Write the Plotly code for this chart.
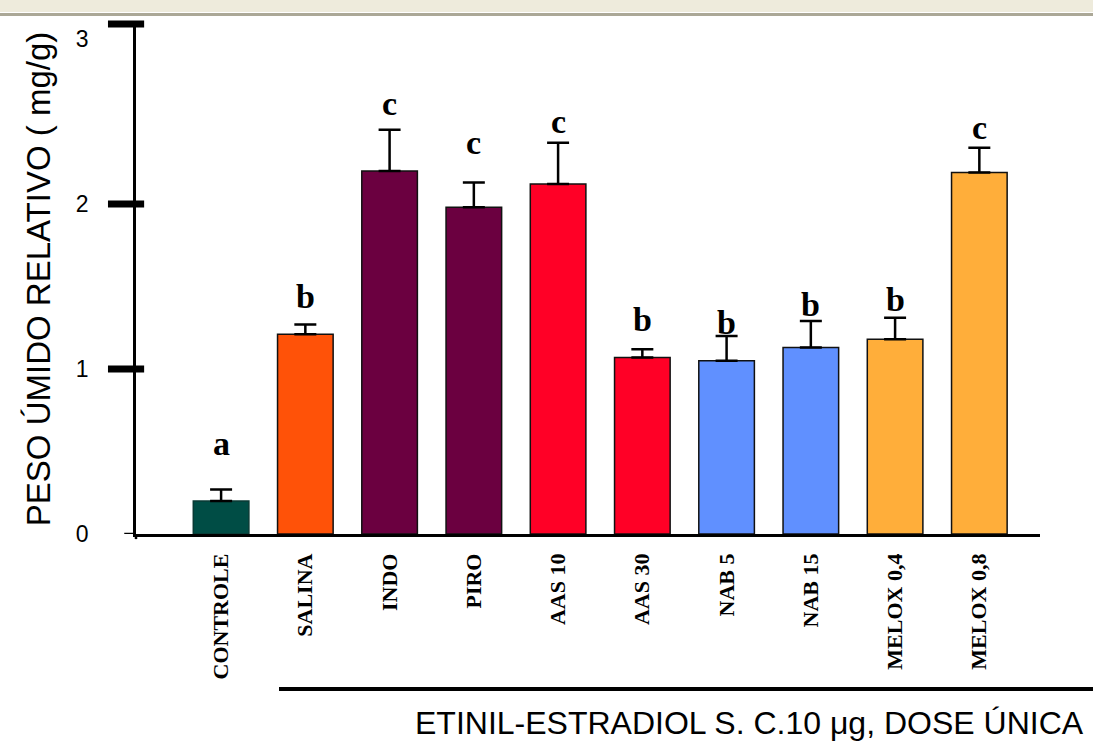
import plotly.graph_objects as go

categories = ["CONTROLE", "SALINA", "INDO", "PIRO", "AAS 10", "AAS 30",
              "NAB 5", "NAB 15", "MELOX 0,4", "MELOX 0,8"]
values = [0.20, 1.21, 2.20, 1.98, 2.12, 1.07, 1.05, 1.13, 1.18, 2.19]
errors = [0.07, 0.06, 0.25, 0.15, 0.25, 0.05, 0.15, 0.16, 0.13, 0.15]
letters = ["a", "b", "c", "c", "c", "b", "b", "b", "b", "c"]
letter_y = [0.55, 1.44, 2.61, 2.37, 2.50, 1.30, 1.28, 1.39, 1.42, 2.46]
colors = ["#004D45", "#FF5208", "#6B0040", "#6B0040", "#FF0026", "#FF0026",
          "#6090FF", "#6090FF", "#FFAE3A", "#FFAE3A"]
line_colors = ["#0A3A34"] + ["#111111"] * 9
ytick_vals = [0, 1, 2, 3]
ytick_text = ["0", "1", "2", "3"]

idx = list(range(len(categories)))

fig = go.Figure()
fig.add_trace(go.Bar(
    x=idx, y=values, width=0.66,
    marker=dict(color=colors, line=dict(color=line_colors, width=1.5)),
    error_y=dict(type="data", array=errors, arrayminus=[0] * len(errors),
                 symmetric=False, color="black", thickness=2.5, width=11),
    showlegend=False,
))

for i, (t, ly) in enumerate(zip(letters, letter_y)):
    fig.add_annotation(x=i, y=ly, text="<b>" + t + "</b>", showarrow=False,
                       font=dict(family="Liberation Serif", size=34, color="black"),
                       xanchor="center", yanchor="middle")

# thick y ticks
for v in [1, 2]:
    fig.add_shape(type="line", xref="paper", yref="y", x0=-0.031, x1=0.009, y0=v, y1=v,
                  line=dict(color="black", width=7))
fig.add_shape(type="line", xref="paper", yref="paper", x0=-0.031, x1=0.009, y0=1, y1=1,
              line=dict(color="black", width=7))
# axis cross extensions
fig.add_shape(type="line", xref="paper", yref="y", x0=-0.013, x1=0, y0=0, y1=0,
              line=dict(color="black", width=2.5))
fig.add_shape(type="line", xref="paper", yref="paper", x0=0, x1=0, y0=-0.01, y1=0,
              line=dict(color="black", width=2.5))

# top decoration band
fig.add_shape(type="rect", xref="paper", yref="paper", x0=-0.2, x1=1.1,
              y0=1 + 12 / 510, y1=1 + 30 / 510, line=dict(width=0),
              fillcolor="#EEEBDC", layer="below")
fig.add_shape(type="line", xref="paper", yref="paper", x0=-0.2, x1=1.1,
              y0=1 + 9.5 / 510, y1=1 + 9.5 / 510, line=dict(color="#ABA897", width=3))

# bottom group line
fig.add_shape(type="line", xref="paper", yref="paper", x0=(279 - 136) / 904, x1=1.1,
              y0=-(689 - 534) / 510, y1=-(689 - 534) / 510, line=dict(color="black", width=4))
fig.add_annotation(xref="paper", yref="paper", x=(749 - 136) / 904, y=-(723 - 534) / 510,
                   text="ETINIL-ESTRADIOL S. C.10 \u03bcg, DOSE \u00daNICA", showarrow=False,
                   font=dict(family="Liberation Sans", size=32, color="black"),
                   xanchor="center", yanchor="middle")

fig.update_layout(
    width=1093, height=743,
    margin=dict(l=136, r=1093 - 1040, t=24, b=743 - 534),
    paper_bgcolor="white", plot_bgcolor="white",
    bargap=0.34,
    xaxis=dict(range=[-1.01, 9.72], tickmode="array", tickvals=idx,
               ticktext=["<b>" + c + "</b>" for c in categories],
               tickangle=-90, showgrid=False, zeroline=False, showline=True,
               linecolor="black", linewidth=2.5, ticks="outside", ticklen=8,
               tickcolor="rgba(0,0,0,0)",
               tickfont=dict(family="Liberation Serif", size=22, color="black")),
    yaxis=dict(range=[0, 3.09], tickmode="array", tickvals=ytick_vals,
               ticktext=ytick_text,
               showgrid=False, zeroline=False, showline=True, linecolor="black",
               linewidth=2.5, ticks="", ticklabelstandoff=40,
               tickfont=dict(family="Liberation Sans", size=23, color="black"),
               title=dict(text="PESO \u00daMIDO RELATIVO ( mg/g)", standoff=16,
                          font=dict(family="Liberation Sans", size=33, color="black"))),
)

fig.write_html("out.html")
